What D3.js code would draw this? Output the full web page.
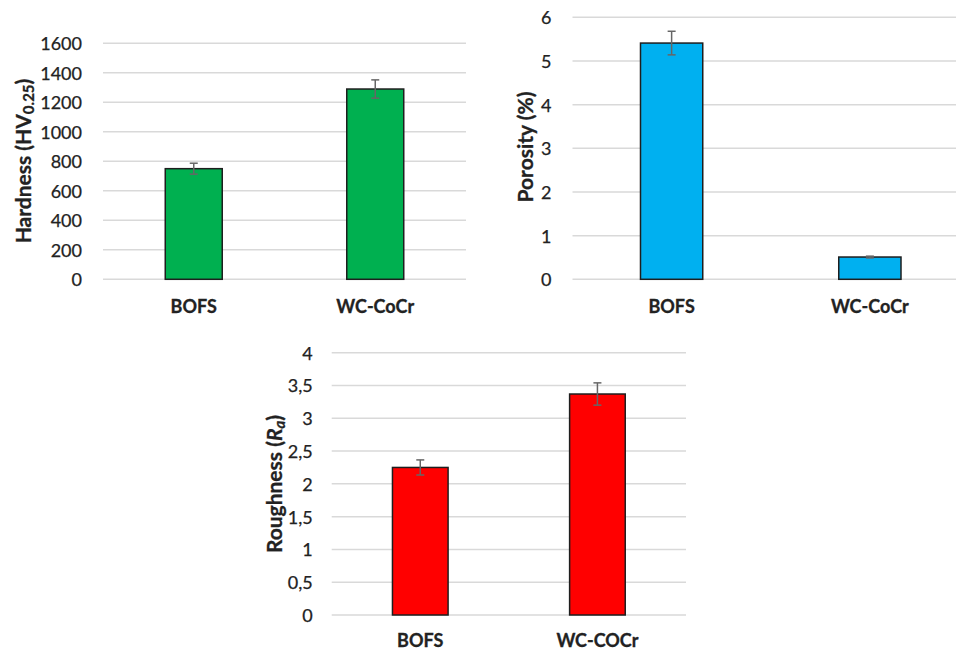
<!DOCTYPE html>
<html>
<head>
<meta charset="utf-8">
<script src="https://cdn.jsdelivr.net/npm/d3@7"></script>
<style>
  html, body { margin: 0; padding: 0; background: #fff; }
  svg { display: block; font-family: Lato, "Open Sans", sans-serif; }
</style>
</head>
<body>
<svg id="chart" width="956" height="651"></svg>
<script>
// Hardness panel
const hardCategories = ["BOFS", "WC-CoCr"];
const hardValues = [750, 1290];
const hardErrors = [37, 62];
const hardTicks = [0, 200, 400, 600, 800, 1000, 1200, 1400, 1600];

// Porosity panel
const poroCategories = ["BOFS", "WC-CoCr"];
const poroValues = [5.41, 0.51];
const poroErrors = [0.27, 0.02];
const poroTicks = [0, 1, 2, 3, 4, 5, 6];

// Roughness panel
const roughCategories = ["BOFS", "WC-COCr"];
const roughValues = [2.25, 3.37];
const roughErrors = [0.115, 0.17];
const roughTicks = [0, 0.5, 1, 1.5, 2, 2.5, 3, 3.5, 4];

const svg = d3.select("#chart");
const FONT = "Lato, 'Open Sans', sans-serif";

function drawPanel(opt) {
  const g = svg.append("g");
  const y = d3.scaleLinear().domain([0, opt.max]).range([opt.bottom, opt.top]);
  const x = d3.scaleBand().domain(opt.categories).range([opt.left, opt.right])
    .paddingInner(0).paddingOuter(0);
  const barW = x.bandwidth() * 0.314;

  // gridlines
  g.selectAll("line.grid").data(opt.ticks).join("line")
    .attr("x1", opt.left).attr("x2", opt.right)
    .attr("y1", d => y(d)).attr("y2", d => y(d))
    .attr("stroke", "#d9d9d9").attr("stroke-width", 1.5);

  // y tick labels
  const axis = d3.axisLeft(y).tickValues(opt.ticks).tickSize(0).tickPadding(0)
    .tickFormat(opt.fmt);
  const ag = g.append("g").attr("transform", `translate(${opt.left - opt.labelGap},0)`).call(axis);
  ag.select(".domain").remove();
  ag.selectAll("text").attr("font-size", 18).attr("fill", "#222")
    .attr("font-family", FONT).attr("dy", "0.36em")
    .attr("stroke", "#222").attr("stroke-width", 0.25);

  // bars
  g.selectAll("rect.bar").data(opt.values).join("rect")
    .attr("x", (d, i) => x(opt.categories[i]) + x.bandwidth() / 2 - barW / 2)
    .attr("width", barW)
    .attr("y", d => y(d))
    .attr("height", d => y(0) - y(d))
    .attr("fill", opt.color)
    .attr("stroke", "#1e1e1e").attr("stroke-width", 1.5);

  // error bars
  const cap = 4;
  opt.values.forEach((v, i) => {
    const cx = x(opt.categories[i]) + x.bandwidth() / 2;
    const e = opt.errors[i];
    const eg = g.append("g").attr("stroke", "#666").attr("stroke-width", 1.5);
    eg.append("line").attr("x1", cx).attr("x2", cx).attr("y1", y(v + e)).attr("y2", y(v - e));
    eg.append("line").attr("x1", cx - cap).attr("x2", cx + cap).attr("y1", y(v + e)).attr("y2", y(v + e));
    eg.append("line").attr("x1", cx - cap).attr("x2", cx + cap).attr("y1", y(v - e)).attr("y2", y(v - e));
  });

  // category labels
  g.selectAll("text.cat").data(opt.categories).join("text")
    .attr("x", d => x(d) + x.bandwidth() / 2)
    .attr("y", opt.catY)
    .attr("text-anchor", "middle").attr("dy", "0.36em")
    .attr("font-size", 18).attr("font-weight", "bold").attr("fill", "#222")
    .attr("stroke", "#222").attr("stroke-width", 0.3)
    .text(d => d);

  // y-axis title
  const t = g.append("text")
    .attr("transform", `translate(${opt.titleX},${opt.titleY}) rotate(-90)`)
    .attr("text-anchor", "middle").attr("dy", "0.36em")
    .attr("font-size", 21).attr("font-weight", "bold").attr("fill", "#222")
    .attr("stroke", "#222").attr("stroke-width", 0.3);
  opt.title(t);
}

drawPanel({
  categories: hardCategories, values: hardValues, errors: hardErrors, ticks: hardTicks,
  max: 1600, top: 43.3, bottom: 279.3, left: 103, right: 466, labelGap: 21,
  color: "#00b050", catY: 307, titleX: 23, titleY: 161,
  fmt: d3.format("d"),
  title: t => {
    t.append("tspan").text("Hardness (HV");
    t.append("tspan").attr("baseline-shift", "-22%").attr("font-size", 15).text("0.25");
    t.append("tspan").attr("baseline-shift", "0").text(")");
  }
});

const commaFmt = d => String(d).replace(".", ",");

drawPanel({
  categories: poroCategories, values: poroValues, errors: poroErrors, ticks: poroTicks,
  max: 6, top: 17.3, bottom: 279.3, left: 572.5, right: 969, labelGap: 21,
  color: "#00b0f0", catY: 307, titleX: 525, titleY: 147,
  fmt: commaFmt,
  title: t => { t.text("Porosity (%)"); }
});

drawPanel({
  categories: roughCategories, values: roughValues, errors: roughErrors, ticks: roughTicks,
  max: 4, top: 352.7, bottom: 615, left: 331.7, right: 686, labelGap: 19,
  color: "#ff0000", catY: 641, titleX: 274, titleY: 484,
  fmt: commaFmt,
  title: t => {
    t.append("tspan").text("Roughness (");
    t.append("tspan").attr("font-style", "italic").text("R");
    t.append("tspan").attr("font-style", "italic").attr("baseline-shift", "-22%").attr("font-size", 15).text("a");
    t.append("tspan").text(")");
  }
});
</script>
</body>
</html>
